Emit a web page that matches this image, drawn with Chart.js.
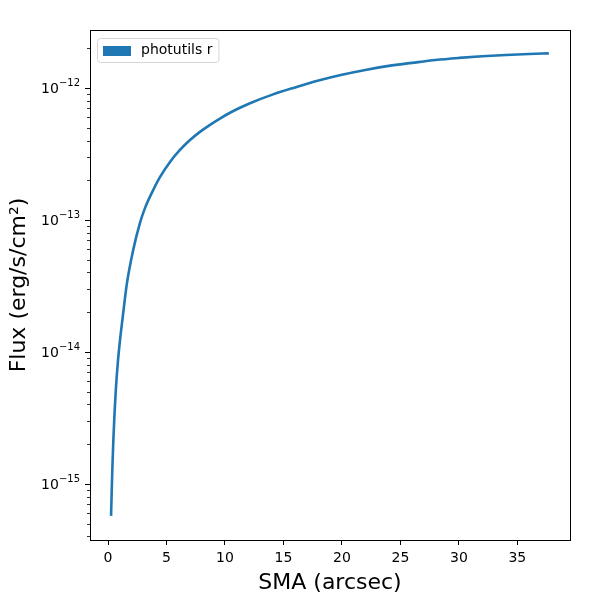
<!DOCTYPE html>
<html>
<head>
<meta charset="utf-8">
<script src="https://cdn.jsdelivr.net/npm/chart.js@4"></script>
<style>
  html, body { margin: 0; padding: 0; background: #fff; }
  #wrap { width: 600px; height: 600px; }
</style>
</head>
<body>
<div id="wrap"><canvas id="fluxChart" width="600" height="600"></canvas></div>
<script>
// curve of growth
const sma = [0.26, 0.32, 0.38, 0.46, 0.56, 0.68, 0.84, 1.04, 1.26, 1.60, 2.16, 2.74, 3.16, 3.87,
  4.44, 5.30, 6.15, 7.01, 7.86, 8.72, 9.57, 10.43, 11.28, 12.14, 14, 16, 18, 20, 22, 24, 26, 28,
  30, 32, 34, 36, 37.69];
const flux = [5.73e-16, 9.02e-16, 1.38e-15, 2.19e-15, 3.47e-15, 5.37e-15, 8.32e-15, 1.26e-14, 1.84e-14,
  3.24e-14, 5.96e-14, 9.55e-14, 1.23e-13, 1.69e-13, 2.11e-13, 2.75e-13, 3.39e-13, 4.03e-13, 4.65e-13,
  5.26e-13, 5.87e-13, 6.49e-13, 7.08e-13, 7.67e-13, 8.87e-13, 1.01e-12, 1.14e-12, 1.26e-12, 1.37e-12,
  1.47e-12, 1.55e-12, 1.63e-12, 1.69e-12, 1.74e-12, 1.78e-12, 1.81e-12, 1.83e-12];
const xTicks = [0, 5, 10, 15, 20, 25, 30, 35];
const decades = [-16, -15, -14, -13, -12];
const seriesLabel = 'photutils r';

const points = sma.map((x, i) => ({ x: x, y: flux[i] }));
const font = { family: 'DejaVu Sans', size: 14 };

// frame, log ticks with 10^n labels and the legend, drawn like matplotlib
const framePlugin = {
  id: 'frame',
  afterDraw(chart) {
    const ctx = chart.ctx, a = chart.chartArea, ys = chart.scales.y;
    ctx.save();
    ctx.strokeStyle = '#000';
    ctx.lineWidth = 1;
    ctx.strokeRect(Math.round(a.left) + 0.5, Math.round(a.top) + 0.5,
      Math.round(a.right - a.left), Math.round(a.bottom - a.top));

    // y ticks
    ys.ticks.forEach(t => {
      const py = Math.round(ys.getPixelForValue(t.value)) + 0.5;
      const len = t.major ? 5 : 3;
      ctx.lineWidth = t.major ? 1 : 0.8;
      ctx.beginPath();
      ctx.moveTo(a.left - len, py);
      ctx.lineTo(a.left, py);
      ctx.stroke();
      if (t.major) {
        const e = Math.round(Math.log10(t.value));
        const exp = '\u2212' + String(Math.abs(e));
        ctx.fillStyle = '#000';
        ctx.textBaseline = 'middle';
        ctx.font = '10px "DejaVu Sans"';
        const ew = ctx.measureText(exp).width;
        const right = a.left - 10;
        ctx.fillText(exp, right - ew, py - 5);
        ctx.font = '14px "DejaVu Sans"';
        const bw = ctx.measureText('10').width;
        ctx.fillText('10', right - ew - bw, py + 1);
      }
    });

    // legend
    const lx = a.left + 7, ly = a.top + 8;
    ctx.font = '14px "DejaVu Sans"';
    const w = 28 + 10 + ctx.measureText(seriesLabel).width + 12;
    ctx.lineWidth = 1;
    ctx.fillStyle = 'rgba(255,255,255,0.8)';
    ctx.strokeStyle = '#d5d5d5';
    ctx.beginPath();
    ctx.roundRect(lx + 0.5, ly + 0.5, w, 24, 3);
    ctx.fill();
    ctx.stroke();
    ctx.fillStyle = '#1f77b4';
    ctx.fillRect(lx + 6, ly + 8, 28, 10);
    ctx.fillStyle = '#000';
    ctx.textBaseline = 'middle';
    ctx.fillText(seriesLabel, lx + 44, ly + 12.5);
    ctx.restore();
  }
};

new Chart(document.getElementById('fluxChart').getContext('2d'), {
  type: 'scatter',
  data: {
    datasets: [{
      label: seriesLabel,
      data: points,
      showLine: true,
      borderColor: '#1f77b4',
      backgroundColor: '#1f77b4',
      borderWidth: 2.6,
      pointRadius: 0,
      cubicInterpolationMode: 'monotone'
    }]
  },
  options: {
    responsive: false,
    animation: false,
    layout: { padding: { left: 0, top: 30, right: 30, bottom: 0 } },
    plugins: { legend: { display: false }, tooltip: { enabled: false } },
    scales: {
      x: {
        type: 'linear',
        min: -1.54,
        max: 39.5,
        afterFit(scale) { scale.height = 60; },
        afterBuildTicks(scale) { scale.ticks = xTicks.map(v => ({ value: v })); },
        grid: { display: true, color: 'rgba(0,0,0,0)', tickColor: '#000', tickLength: 5, drawOnChartArea: false },
        border: { display: false },
        ticks: { font: font, color: '#000', padding: 5, maxRotation: 0 },
        title: { display: true, text: 'SMA (arcsec)', font: { family: 'DejaVu Sans', size: 22 }, color: '#000', padding: { top: 0 } }
      },
      y: {
        type: 'logarithmic',
        min: 3.76e-16,
        max: 2.75e-12,
        afterFit(scale) { scale.width = 90; },
        afterBuildTicks(scale) {
          const t = [];
          decades.forEach(d => {
            for (let m = 1; m <= 9; m++) {
              const v = m * Math.pow(10, d);
              if (v >= scale.min && v <= scale.max) t.push({ value: v, major: m === 1 });
            }
          });
          scale.ticks = t;
        },
        grid: { display: false },
        border: { display: false },
        ticks: { font: font, color: '#000', autoSkip: false, callback: () => '' },
        title: { display: true, text: 'Flux (erg/s/cm\u00B2)', font: { family: 'DejaVu Sans', size: 22 }, color: '#000', padding: { top: 6, bottom: 0 } }
      }
    }
  },
  plugins: [framePlugin]
});
</script>
</body>
</html>
